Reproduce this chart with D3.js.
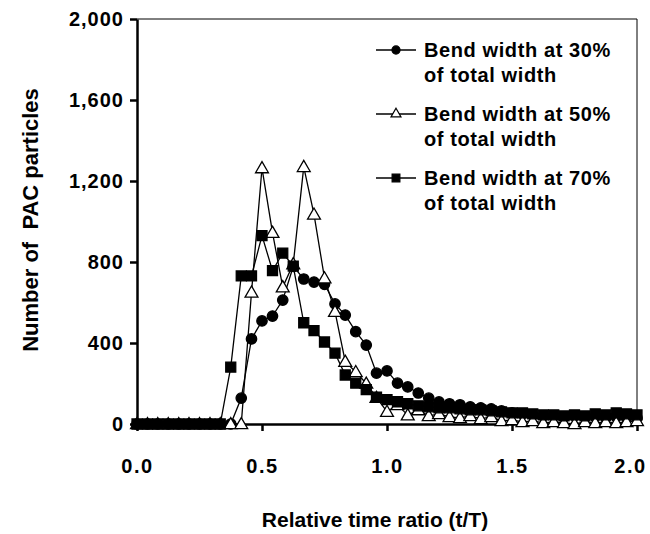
<!DOCTYPE html>
<html>
<head>
<meta charset="utf-8">
<script src="https://cdn.jsdelivr.net/npm/d3@7"></script>
<style>
  body { margin: 0; background: #fff; }
  svg { font-family: "Liberation Sans", Arial, sans-serif; font-weight: bold; }
  .axis path, .axis line { stroke: #000; }
  .axis text { font-family: "Liberation Sans", Arial, sans-serif; font-weight: bold; font-size: 20px; fill: #000; letter-spacing: 1.5px; }
</style>
</head>
<body>
<svg id="chart"></svg>
<script>
// relative time ratio t/T, one bin every 1/24
const timeRatio = [0, 0.042, 0.083, 0.125, 0.167, 0.208, 0.25, 0.292, 0.333, 0.375,
  0.417, 0.458, 0.5, 0.542, 0.583, 0.625, 0.667, 0.708, 0.75, 0.792,
  0.833, 0.875, 0.917, 0.958, 1, 1.042, 1.083, 1.125, 1.167, 1.208,
  1.25, 1.292, 1.333, 1.375, 1.417, 1.458, 1.5, 1.542, 1.583, 1.625,
  1.667, 1.708, 1.75, 1.792, 1.833, 1.875, 1.917, 1.958, 2];

const bend30 = [0, 0, 0, 0, 0, 0, 0, 0, 0, 0,
  128, 420, 509, 533, 612, 778, 716, 701, 690, 593,
  538, 456, 390, 251, 262, 202, 183, 153, 128, 109,
  100, 95, 85, 80, 75, 65, 55, 50, 45, 40,
  40, 35, 40, 35, 35, 30, 35, 30, 30];

const bend50 = [0, 0, 0, 0, 0, 0, 0, 0, 0, 0,
  0, 650, 1264, 945, 676, 790, 1270, 1035, 720, 555,
  308, 257, 200, 130, 61, 94, 44, 69, 40, 50,
  35, 30, 40, 25, 35, 15, 20, 10, 15, 5,
  10, 5, 0, 10, 5, 10, 5, 10, 15];

const bend70 = [0, 0, 0, 0, 0, 0, 0, 0, 0, 281,
  731, 731, 930, 757, 844, 780, 500, 461, 405, 350,
  242, 202, 170, 133, 120, 110, 100, 90, 85, 80,
  80, 75, 70, 70, 65, 60, 55, 55, 50, 45,
  45, 40, 45, 40, 50, 45, 55, 50, 45];

const xTicks = [0, 0.5, 1, 1.5, 2];
const yTicks = [0, 400, 800, 1200, 1600, 2000];

const seriesNames = [
  ["Bend width at 30%", "of total width"],
  ["Bend width at 50%", "of total width"],
  ["Bend width at 70%", "of total width"]
];

const width = 650;
const height = 534;
const marginLeft = 137;
const marginTop = 19;
const plotWidth = 500;
const plotHeight = 405;

const svg = d3.select("#chart")
  .attr("width", width)
  .attr("height", height);

const xScale = d3.scaleLinear().domain([0, 2]).range([0, plotWidth]);
const yScale = d3.scaleLinear().domain([0, 2000]).range([plotHeight, 0]);

const plot = svg.append("g")
  .attr("transform", `translate(${marginLeft},${marginTop})`);

// frame (top + right), thin
plot.append("path")
  .attr("d", `M0,0H${plotWidth}V${plotHeight}`)
  .attr("fill", "none")
  .attr("stroke", "#000")
  .attr("stroke-width", 1);

const xAxis = d3.axisBottom(xScale)
  .tickValues(xTicks)
  .tickSize(7)
  .tickSizeOuter(0)
  .tickPadding(28)
  .tickFormat(d3.format(".1f"));
plot.append("g")
  .classed("axis", true)
  .attr("transform", `translate(0,${plotHeight})`)
  .call(xAxis)
  .call(g => g.select(".domain").attr("stroke-width", 2.5))
  .call(g => g.selectAll(".tick line").attr("stroke-width", 2.5))
  // last label sits against the page edge
  .call(g => g.selectAll(".tick text").filter(d => d === 2).attr("dx", -7));

const yAxis = d3.axisLeft(yScale)
  .tickValues(yTicks)
  .tickSize(7)
  .tickSizeOuter(0)
  .tickPadding(6)
  .tickFormat(d3.format(","));
plot.append("g")
  .classed("axis", true)
  .call(yAxis)
  .call(g => g.select(".domain").attr("stroke-width", 2.5))
  .call(g => g.selectAll(".tick line").attr("stroke-width", 2.5))
  .call(g => g.selectAll(".tick text").style("letter-spacing", "1px"));

// axis titles
svg.append("text")
  .attr("transform", `translate(${marginLeft + plotWidth / 2 - 12},527)`)
  .style("text-anchor", "middle")
  .style("font-size", "21px")
  .text("Relative time ratio (t/T)");
svg.append("text")
  .attr("transform", "translate(38,220) rotate(-90)")
  .style("text-anchor", "middle")
  .style("font-size", "22px")
  .style("white-space", "pre")
  .text("Number of  PAC particles");

const series = [bend30, bend50, bend70].map(vals =>
  vals.map((v, i) => ({ t: timeRatio[i], v: v })));

const line = d3.line()
  .x(d => xScale(d.t))
  .y(d => yScale(d.v));

plot.selectAll(".line")
  .data(series)
  .enter()
  .append("path")
  .attr("class", "line")
  .attr("fill", "none")
  .attr("stroke", "#000")
  .attr("stroke-width", 1.3)
  .attr("d", line);

const symbols = [
  { type: d3.symbolCircle, size: 85, fill: "#000" },
  { type: d3.symbolTriangle, size: 72, fill: "#fff" },
  { type: d3.symbolSquare, size: 100, fill: "#000" }
];

series.forEach((pts, s) => {
  const sym = d3.symbol().type(symbols[s].type).size(symbols[s].size);
  plot.selectAll(`.pt${s}`)
    .data(pts)
    .enter()
    .append("path")
    .attr("class", `pt${s}`)
    .attr("transform", d => `translate(${xScale(d.t)},${yScale(d.v) + (s === 1 ? 1 : 0)})`)
    .attr("d", sym)
    .attr("fill", symbols[s].fill)
    .attr("stroke", "#000")
    .attr("stroke-width", 1.3);
});

// legend
const legend = svg.append("g").attr("transform", "translate(376,0)");
const legendY = [50, 114, 178];
seriesNames.forEach((name, s) => {
  const g = legend.append("g").attr("transform", `translate(0,${legendY[s]})`);
  g.append("line")
    .attr("x1", 0).attr("x2", 40)
    .attr("stroke", "#000").attr("stroke-width", 1.3);
  g.append("path")
    .attr("transform", "translate(20,0)")
    .attr("d", d3.symbol().type(symbols[s].type).size(symbols[s].size * 0.6))
    .attr("fill", symbols[s].fill)
    .attr("stroke", "#000")
    .attr("stroke-width", 1.2);
  g.append("text")
    .attr("x", 48).attr("y", 7)
    .style("font-size", "20px")
    .style("letter-spacing", "0.6px")
    .text(name[0]);
  g.append("text")
    .attr("x", 48).attr("y", 32)
    .style("font-size", "20px")
    .style("letter-spacing", "0.6px")
    .text(name[1]);
});
</script>
</body>
</html>
